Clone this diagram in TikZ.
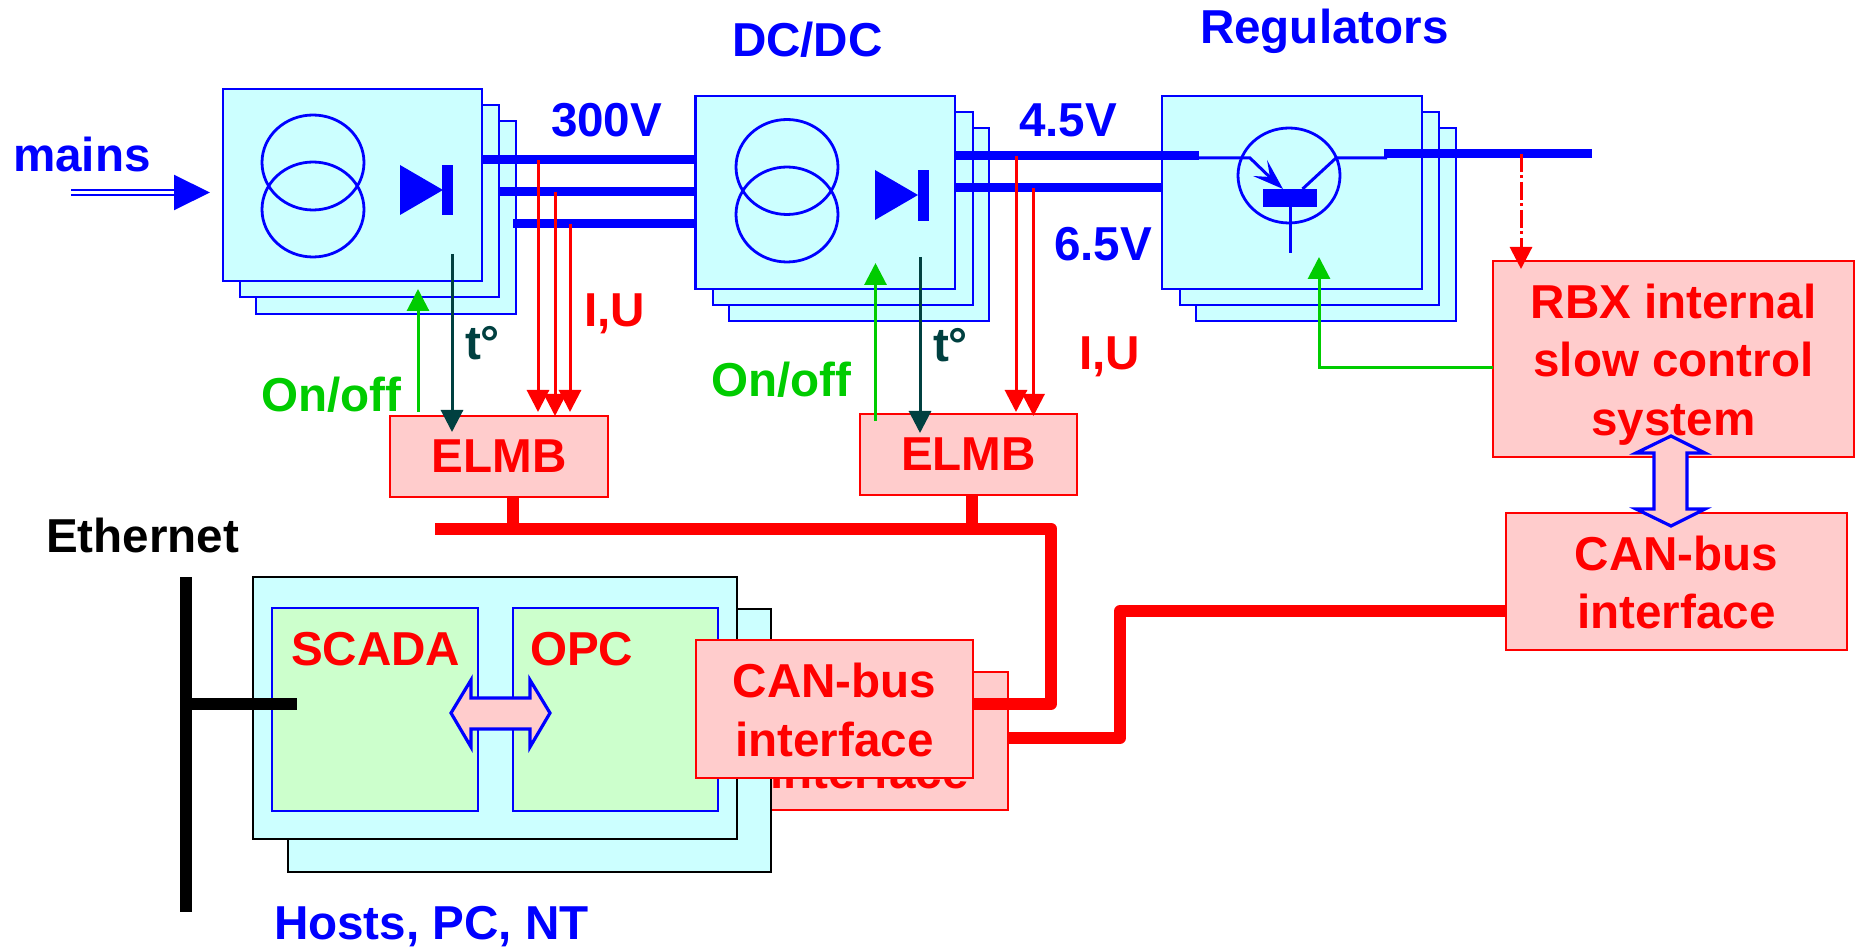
\documentclass[tikz,border=0pt]{standalone}
\usepackage{fontspec}
\setmainfont{Liberation Sans}
\usetikzlibrary{arrows.meta}
\definecolor{bl}{HTML}{0000FF}
\definecolor{rd}{HTML}{FF0000}
\definecolor{gr}{HTML}{00CC00}
\definecolor{dk}{HTML}{004040}
\definecolor{cy}{HTML}{CCFFFF}
\definecolor{pk}{HTML}{FFCCCC}
\definecolor{lg}{HTML}{CCFFCC}
\tikzset{
  every node/.style={inner sep=0pt,outer sep=0pt,font=\bfseries\fontsize{47.6}{58.5}\selectfont},
  bluebox/.style={draw=bl,fill=cy,line width=2.8pt},
  hostbox/.style={draw=black,fill=cy,line width=2.6pt},
  appbox/.style={draw=bl,fill=lg,line width=2.8pt},
  pinkbox/.style={draw=rd,fill=pk,line width=2.6pt,text=rd,align=center},
  lbl/.style={anchor=base west},
  sym/.style={draw=bl,line width=2.8pt},
  symthin/.style={draw=bl,line width=3pt},
  powerline/.style={draw=bl,line width=9pt},
  bus/.style={draw=rd,line width=12pt,line join=round},
  ether/.style={draw=black,line width=12pt},
  tipA/.style={-{Triangle[length=22pt,width=22pt]}},
  sensered/.style={draw=rd,line width=3pt,tipA},
  ctrlgreen/.style={draw=gr,line width=3pt,tipA},
  tempdark/.style={draw=dk,line width=3pt,tipA},
  bigarrow/.style={draw=bl,fill=pk,line width=3.2pt,line join=miter},
}
\begin{document}
\begin{tikzpicture}[x=1pt,y=-1pt]
\useasboundingbox (0,0) rectangle (1858,949);

% --- stack 1
\node[bluebox,minimum width=260pt,minimum height=193pt] (s1c) at (386,217.5) {};
\node[bluebox,minimum width=259pt,minimum height=192pt] (s1b) at (369.5,201) {};
\node[bluebox,minimum width=259pt,minimum height=192pt] (s1a) at (352.5,185) {};
\draw[sym] (313,162.5) ellipse [x radius=51pt,y radius=47.5pt];
\draw[sym] (313,209.5) ellipse [x radius=51pt,y radius=47.5pt];
\fill[bl] (400,165) -- (443,190) -- (400,215) -- cycle;
\fill[bl] (442,165) rectangle (453,215);

% --- 300 V lines
\coordinate (p1a) at (482,160); \coordinate (p1b) at (499,192); \coordinate (p1c) at (513,224);
\coordinate (p2a) at (696,160); \coordinate (p2b) at (696,192); \coordinate (p2c) at (696,224);
\draw[powerline] (p1a) -- (p2a);
\draw[powerline] (p1b) -- (p2b);
\draw[powerline] (p1c) -- (p2c);

% --- stack 2
\node[bluebox,minimum width=260pt,minimum height=193pt] (s2c) at (859,224.5) {};
\node[bluebox,minimum width=260pt,minimum height=193pt] (s2b) at (843,208.5) {};
\node[bluebox,minimum width=259.5pt,minimum height=193pt] (s2a) at (825.3,192.5) {};
\draw[sym] (787,167) ellipse [x radius=51pt,y radius=47.5pt];
\draw[sym] (787,214.5) ellipse [x radius=51pt,y radius=47.5pt];
\fill[bl] (875,170) -- (918,195) -- (875,220) -- cycle;
\fill[bl] (917.5,170) rectangle (929,221);

% --- stack 3
\node[bluebox,minimum width=260pt,minimum height=193pt] (s3c) at (1326,224.5) {};
\node[bluebox,minimum width=259pt,minimum height=193pt] (s3b) at (1309.5,208.5) {};
\node[bluebox,minimum width=260pt,minimum height=193pt] (s3a) at (1292,192.5) {};

% --- 4.5 V / 6.5 V lines
\coordinate (q1a) at (955,156); \coordinate (q1b) at (1199,156);
\coordinate (q2a) at (955,188); \coordinate (q2b) at (1162,188);
\draw[powerline] (q1a) -- (q1b);
\draw[powerline] (q2a) -- (q2b);

% --- transistor
\draw[sym] (1289,175.5) ellipse [x radius=51pt,y radius=47.5pt];
\fill[bl] (1263,189) rectangle (1317,207);
\draw[symthin] (1199,158) -- (1250,158) -- (1278,185);
\fill[bl] (1283,189) -- (1267,160) -- (1270,177) -- (1253,176) -- cycle;
\draw[symthin] (1302.5,189) -- (1336,158) -- (1387,158);
\draw[symthin] (1290,207) -- (1290,253);
\coordinate (o1) at (1384,154); \coordinate (o2) at (1592,154);
\draw[powerline] (o1) -- (o2);

% --- ELMB boxes
\node[pinkbox,minimum width=218pt,minimum height=81pt] (elmb1) at (499,456.5) {ELMB};
\node[pinkbox,minimum width=217pt,minimum height=81pt] (elmb2) at (968.5,454.5) {ELMB};

% --- RBX box
\node[pinkbox,minimum width=361pt,minimum height=196pt] (rbx) at (1673.5,359)
  {\rule{0pt}{45pt}RBX internal\\slow control\\system};

% --- right CAN box
\node[pinkbox,minimum width=341pt,minimum height=137pt] (canr) at (1676.5,581.5)
  {\rule{0pt}{36.6pt}CAN-bus\\interface};

% --- back CAN box, host boxes
\node[pinkbox,minimum width=277pt,minimum height=138pt] (canb) at (869.5,741)
  {\rule{0pt}{94.7pt}interface};
\node[hostbox,minimum width=483pt,minimum height=263pt] (hostb) at (529.5,740.5) {};
\node[hostbox,minimum width=484pt,minimum height=262pt] (hosta) at (495,708) {};
\node[appbox,minimum width=206pt,minimum height=203pt] (scada) at (375,709.5) {};
\node[appbox,minimum width=205pt,minimum height=203pt] (opc) at (615.5,709.5) {};
\node[lbl,text=rd] (tscada) at (291,665) {SCADA};
\node[lbl,text=rd] (topc) at (530,665) {OPC};

% --- Ethernet
\coordinate (e1) at (185.5,577); \coordinate (e2) at (185.5,912);
\coordinate (e3) at (185.5,704); \coordinate (e4) at (297,704);
\draw[ether] (e1) -- (e2);
\draw[ether] (e3) -- (e4);

% --- front CAN box
\node[pinkbox,minimum width=277pt,minimum height=138pt] (canf) at (834.5,709)
  {\rule{0pt}{36pt}CAN-bus\\interface};

% --- red buses
\coordinate (b0) at (435,528.5); \coordinate (b1) at (1051,528.5);
\coordinate (b2) at (1051,704);
\coordinate (st1) at (513,528.5); \coordinate (st2) at (972,528.5);
\draw[bus] (b0) -- (b1) -- (b2) -- (canf.east |- b2);
\draw[draw=rd,line width=12pt] (st1) -- (st1 |- elmb1.south);
\draw[draw=rd,line width=12pt] (st2) -- (st2 |- elmb2.south);
\coordinate (c1) at (1120,738); \coordinate (c2) at (1120,611);
\draw[bus] (canb.east |- c1) -- (c1) -- (c2) -- (canr.west |- c2);

% --- big double arrows
\draw[bigarrow] (451,713) -- (471,680) -- (471,698) -- (530,698) -- (530,680) -- (550,713)
  -- (530,747) -- (530,729) -- (471,729) -- (471,747) -- cycle;
\draw[bigarrow] (1671,436) -- (1705,453) -- (1687,453) -- (1687,509) -- (1705,509) -- (1671,526)
  -- (1636,509) -- (1654,509) -- (1654,453) -- (1636,453) -- cycle;

% --- mains
\coordinate (m0) at (71,192.5); \coordinate (m1) at (210,192.5);
\draw[draw=bl,line width=2pt,double,double distance=3pt,-{Triangle[length=36pt,width=35pt]}] (m0) -- (m1);

% --- sensing arrows
\coordinate (r1) at (538,160); \coordinate (r1e) at (538,412);
\coordinate (r2) at (555,192); \coordinate (r2e) at (555,416);
\coordinate (r3) at (570,224); \coordinate (r3e) at (570,412);
\draw[sensered] (r1) -- (r1e);
\draw[sensered] (r2) -- (r2e);
\draw[sensered] (r3) -- (r3e);
\coordinate (r4) at (1016,156); \coordinate (r4e) at (1016,412);
\coordinate (r5) at (1033.5,188); \coordinate (r5e) at (1033.5,416);
\draw[sensered] (r4) -- (r4e);
\draw[sensered] (r5) -- (r5e);
\coordinate (gg1) at (418,412); \coordinate (gg1e) at (418,289);
\coordinate (gg2) at (875.5,421); \coordinate (gg2e) at (875.5,263);
\draw[ctrlgreen] (gg1) -- (gg1e);
\draw[ctrlgreen] (gg2) -- (gg2e);
\coordinate (d1) at (452,254); \coordinate (d1e) at (452,432);
\coordinate (d2) at (920,257); \coordinate (d2e) at (920,433);
\draw[tempdark] (d1) -- (d1e);
\draw[tempdark] (d2) -- (d2e);
\coordinate (gg3e) at (1319,257); \coordinate (gg3m) at (1319,368);
\draw[ctrlgreen] (rbx.west |- gg3m) -- (gg3m) -- (gg3e);
\coordinate (dd) at (1521,154); \coordinate (dde) at (1521,269);
\draw[draw=rd,line width=3pt,dash pattern=on 18pt off 3.5pt on 3pt off 3.5pt,tipA] (dd) -- (dde);

% --- labels
\node[lbl,text=bl] (tmains) at (13,172) {mains};
\node[lbl,text=bl] (t300) at (551,137) {300V};
\node[lbl,text=bl] (tdc) at (732,57) {DC/DC};
\node[lbl,text=bl] (t45) at (1019,137) {4.5V};
\node[lbl,text=bl] (t65) at (1054,261) {6.5V};
\node[lbl,text=bl] (treg) at (1200,44) {Regulators};
\node[lbl,text=rd] (tiu1) at (584,327) {I,U};
\node[lbl,text=rd] (tiu2) at (1079,370) {I,U};
\node[lbl,text=dk] (tt1) at (465,360) {t°};
\node[lbl,text=dk] (tt2) at (933,362) {t°};
\node[lbl,text=gr] (ton1) at (261,412) {On/off};
\node[lbl,text=gr] (ton2) at (711,396) {On/off};
\node[lbl,text=black] (teth) at (46,552) {Ethernet};
\node[lbl,text=bl] (thost) at (274,939) {Hosts, PC, NT};
\end{tikzpicture}
\end{document}
